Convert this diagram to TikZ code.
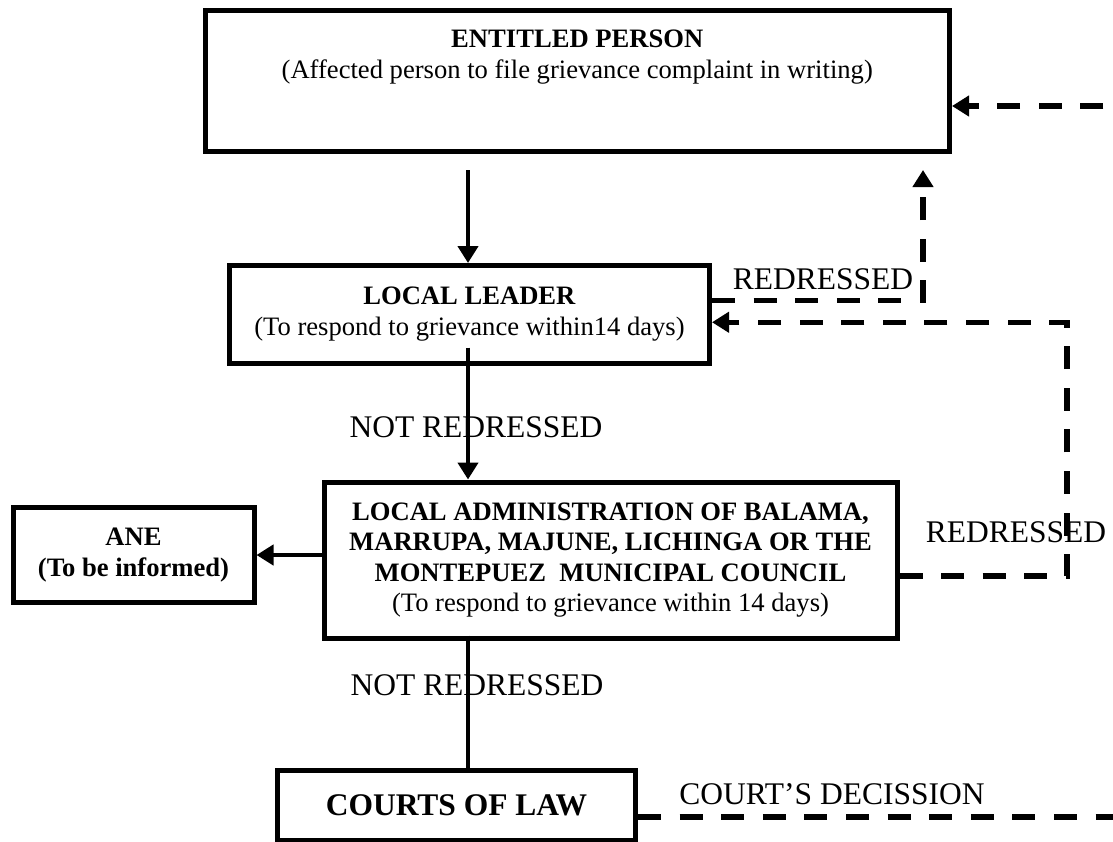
\documentclass[tikz,border=0pt]{standalone}
\usepackage{fontspec}
\setmainfont{Liberation Serif}
\usetikzlibrary{arrows.meta,calc}
\tikzset{
  box/.style={draw, line width=2.5pt, rectangle, inner sep=0pt, align=center,
    font=\fontsize{13.3}{15.3}\selectfont},
  conn/.style={line width=2.4pt},
  tip/.style={-{Triangle[length=8.5pt,width=10pt]}},
  arr/.style={conn, tip},
  dconn/.style={line width=2.6pt, dash pattern=on 11.5pt off 9.3pt},
  lbl/.style={font=\fontsize{15.75}{17}\selectfont, inner sep=0pt},
  txt/.style={inner sep=0pt, align=center, font=\fontsize{13.3}{15.3}\selectfont},
}
\begin{document}
\begin{tikzpicture}[x=0.5pt,y=-0.5pt]
\useasboundingbox (0,0) rectangle (1113,841);
\clip (0,0) rectangle (1113,841);

% boxes
\node[box, minimum width=372.25pt, minimum height=70.5pt] (ep) at (577.25,81) {};
\node[txt] (ept) at ($(ep.center)+(0,-24)$) {\textbf{ENTITLED PERSON}\\(Affected person to file grievance complaint in writing)};
\node[box, minimum width=240pt, minimum height=48.75pt] (ll) at (469.5,314.25)
  {\textbf{LOCAL LEADER}\\(To respond to grievance within14 days)};
\node[box, minimum width=286.5pt, minimum height=78pt] (la) at (610.5,560)
  {\textbf{LOCAL ADMINISTRATION OF BALAMA,}\\\textbf{MARRUPA, MAJUNE, LICHINGA OR THE}\\\textbf{MONTEPUEZ\ \ MUNICIPAL COUNCIL}\\(To respond to grievance within 14 days)};
\node[box, minimum width=120.5pt, minimum height=47.5pt] (ane) at (133.5,555)
  {\textbf{ANE}\\\textbf{(To be informed)}};
\node[box, minimum width=179pt, minimum height=35pt, font=\fontsize{15.75}{17}\selectfont\bfseries] (cl) at (456.5,805) {COURTS OF LAW};

% labels
\node[lbl] (nr1) at (476,427) {NOT REDRESSED};
\node[lbl] (nr2) at (477,685) {NOT REDRESSED};
\node[lbl] (rd1) at (823,279) {REDRESSED};
\node[lbl] (rd2) at (1016,532) {REDRESSED};
\node[lbl] (cd) at (832,794) {COURT’S DECISSION};

% helper coordinates
\coordinate (vx) at (468,0);
\coordinate (r1) at (923,0);
\coordinate (r2) at (1067,0);
\coordinate (r3) at (1160,0);

% solid connectors
\draw[arr] ($(ep.south -| vx)+(0,16)$) -- (ll.north -| vx);
\draw[arr] ($(ll.south -| vx)+(0,-18)$) -- (la.north -| vx);
\draw[conn] ($(la.south -| vx)+(0,-5)$) -- (cl.north -| vx);
\draw[arr] (ane.east -| la.west) -- (ane.east);

% dashed connectors
\draw[dconn, tip] ($(ll.east)+(0,-14)$) -| ($(ep.south -| r1)+(0,16)$);
\draw[dconn, tip] ($(la.east)+(0,16)$) -- ($(la.east -| r2)+(0,16)$)
  -- ($(ll.east -| r2)+(0,8)$) -- ($(ll.east)+(0,8)$);
\draw[dconn, tip] ($(cl.east)+(0,12)$) -- ($(cl.east -| r3)+(0,12)$)
  -- ($(ep.east -| r3)+(0,25)$) -- ($(ep.east)+(0,25)$);
\end{tikzpicture}
\end{document}
